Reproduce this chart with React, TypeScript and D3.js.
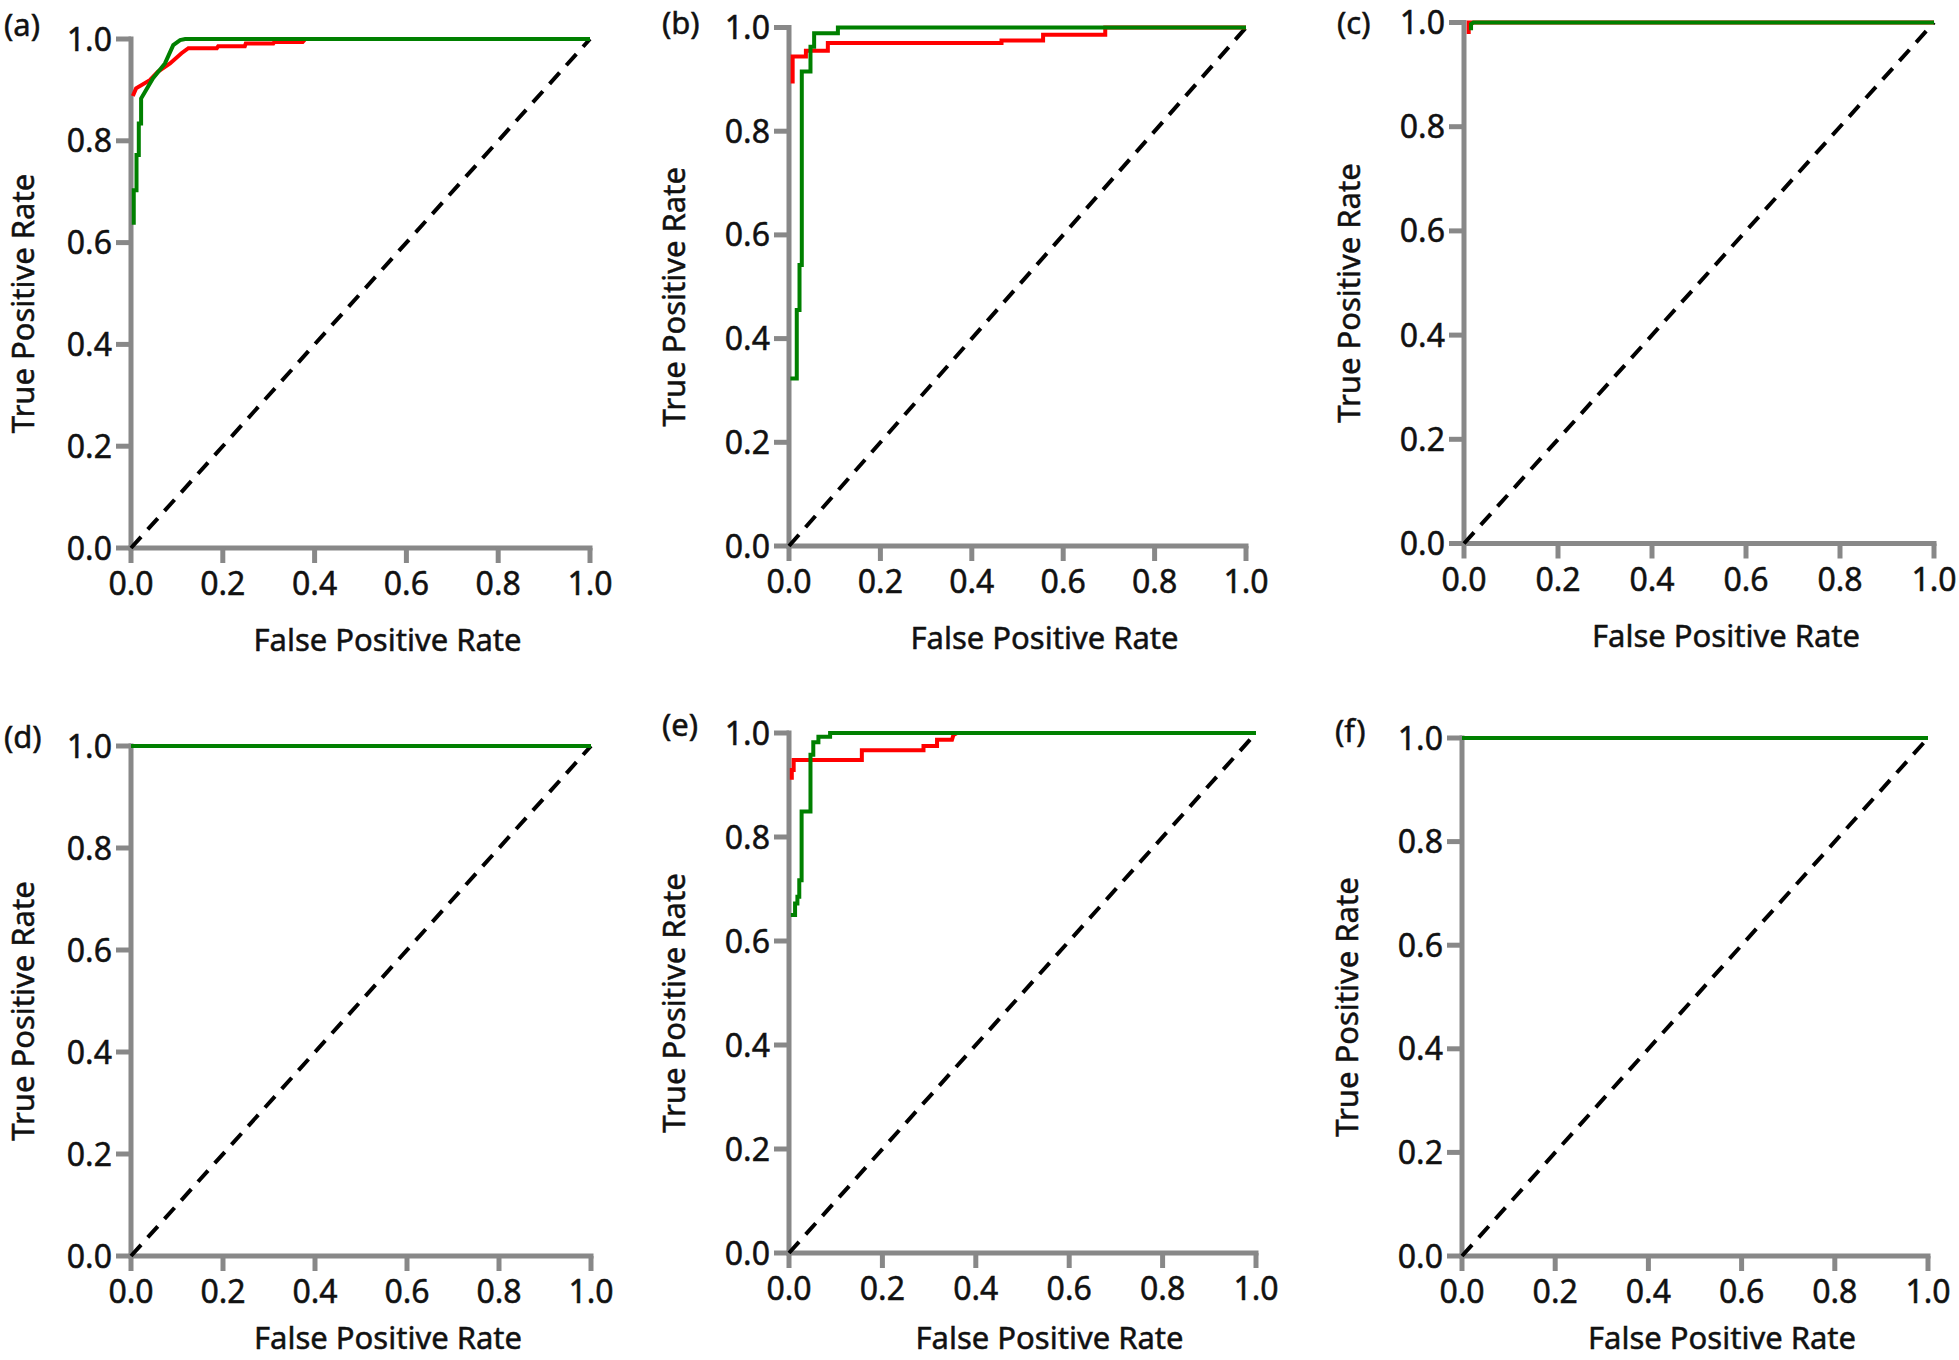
import React from "react";
import * as d3 from "d3";

// ---------- DATA ----------
const panelLabels = ["(a)", "(b)", "(c)", "(d)", "(e)", "(f)"];
const tickValues = [0, 0.2, 0.4, 0.6, 0.8, 1.0];
const xTitle = "False Positive Rate";
const yTitle = "True Positive Rate";
const diagonal: [number, number][] = [[0, 0], [1, 1]];

const redA: [number, number][] = [[0.004,0.888],[0.011,0.903],[0.041,0.919],[0.059,0.936],[0.085,0.952],[0.11,0.972],[0.125,0.982],[0.187,0.982],[0.19,0.986],[0.248,0.986],[0.25,0.991],[0.31,0.991],[0.312,0.994],[0.374,0.994],[0.38,1],[1,1]];
const greenA: [number, number][] = [[0.006,0.635],[0.006,0.703],[0.012,0.703],[0.012,0.772],[0.017,0.772],[0.017,0.834],[0.022,0.834],[0.022,0.883],[0.048,0.923],[0.074,0.952],[0.092,0.988],[0.107,0.998],[0.118,1],[1,1]];

const redB: [number, number][] = [[0.008,0.892],[0.008,0.944],[0.037,0.944],[0.037,0.955],[0.085,0.955],[0.085,0.97],[0.465,0.97],[0.465,0.975],[0.556,0.975],[0.556,0.986],[0.692,0.986],[0.692,1],[1,1]];
const greenB: [number, number][] = [[0.003,0.323],[0.017,0.323],[0.017,0.455],[0.023,0.455],[0.023,0.542],[0.028,0.542],[0.028,0.915],[0.047,0.915],[0.047,0.963],[0.055,0.963],[0.055,0.989],[0.107,0.989],[0.107,1],[1,1]];

const redC: [number, number][] = [[0.01,0.978],[0.01,1],[1,1]];
const greenC: [number, number][] = [[0.015,0.985],[0.015,0.997],[0.02,1],[1,1]];

const redD: [number, number][] = [[0,1],[1,1]];
const greenD: [number, number][] = [[0,1],[1,1]];

const redE: [number, number][] = [[0.006,0.91],[0.006,0.929],[0.01,0.929],[0.01,0.948],[0.156,0.948],[0.156,0.967],[0.288,0.967],[0.288,0.975],[0.317,0.975],[0.317,0.987],[0.349,0.987],[0.352,0.996],[0.36,1],[1,1]];
const greenE: [number, number][] = [[0.004,0.65],[0.013,0.65],[0.013,0.672],[0.018,0.672],[0.018,0.685],[0.022,0.685],[0.022,0.717],[0.027,0.717],[0.027,0.849],[0.046,0.849],[0.046,0.958],[0.052,0.958],[0.052,0.982],[0.063,0.982],[0.063,0.993],[0.088,0.993],[0.088,1],[1,1]];

const redF: [number, number][] = [[0,1],[1,1]];
const greenF: [number, number][] = [[0,1],[1,1]];

const redSeries = [redA, redB, redC, redD, redE, redF];
const greenSeries = [greenA, greenB, greenC, greenD, greenE, greenF];

// ---------- LAYOUT ----------
// [x0, x1, yTop, yBottom, labelBaseline]
const layout: [number, number, number, number, number][] = [
  [131, 590, 39, 548, 36],
  [789, 1246, 27.5, 546, 34],
  [1464, 1934, 22.5, 543.5, 34],
  [131, 591, 746, 1256, 748],
  [789, 1256, 733, 1253, 736],
  [1462, 1928, 738, 1256, 742],
];

const FONT = "'Noto Sans', 'Open Sans', sans-serif";
const FS = 31;
const TFS = 32;
const AXIS = "#888888";
const TEXT = "#111111";
const fmt = d3.format(".1f");
const textStyle = { stroke: TEXT, strokeWidth: 0.5 };

function Panel({ i }: { i: number }) {
  const [x0, x1, yT, yB, lb] = layout[i];
  const x = d3.scaleLinear().domain([0, 1]).range([x0, x1]);
  const y = d3.scaleLinear().domain([0, 1]).range([yB, yT]);
  const line = d3.line<[number, number]>().x((d) => x(d[0])).y((d) => y(d[1]));
  const tick = 15;
  const yTitleX = Math.max(34, x0 - 104);
  const xTitleY = Math.min(yB + 103, 1349);
  return (
    <g>
      {/* axes */}
      <line x1={x0} x2={x0} y1={y(1)} y2={y(0)} stroke={AXIS} strokeWidth={5} strokeLinecap="square" />
      <line x1={x(0)} x2={x(1)} y1={yB} y2={yB} stroke={AXIS} strokeWidth={5} strokeLinecap="square" />
      {tickValues.map((t) => (
        <g key={"x" + t}>
          <line x1={x(t)} x2={x(t)} y1={yB} y2={yB + tick} stroke={AXIS} strokeWidth={5} />
          <text x={x(t)} y={yB + 47} textAnchor="middle" fontFamily={FONT} fontSize={TFS} fill={TEXT} style={textStyle}>
            {fmt(t)}
          </text>
        </g>
      ))}
      {tickValues.map((t) => (
        <g key={"y" + t}>
          <line x1={x0 - tick} x2={x0} y1={y(t)} y2={y(t)} stroke={AXIS} strokeWidth={5} />
          <text x={x0 - 19} y={y(t) + 11.5} textAnchor="end" fontFamily={FONT} fontSize={TFS} fill={TEXT} style={textStyle}>
            {fmt(t)}
          </text>
        </g>
      ))}
      {/* diagonal */}
      <path d={line(diagonal) || ""} fill="none" stroke="#000" strokeWidth={4} strokeDasharray="15,10" />
      {/* curves */}
      <path d={line(redSeries[i]) || ""} fill="none" stroke="#ff0000" strokeWidth={4} strokeLinejoin="miter" />
      <path d={line(greenSeries[i]) || ""} fill="none" stroke="#008000" strokeWidth={4} strokeLinejoin="miter" />
      {/* titles */}
      <text x={(x0 + x1) / 2 + 27} y={xTitleY} textAnchor="middle" fontFamily={FONT} fontSize={FS} fill={TEXT} style={textStyle}>
        {xTitle}
      </text>
      <text
        transform={`translate(${yTitleX},${(yT + yB) / 2 + 10}) rotate(-90)`}
        textAnchor="middle"
        fontFamily={FONT}
        fontSize={FS}
        fill={TEXT}
        style={textStyle}
      >
        {yTitle}
      </text>
      <text x={x0 - 127} y={lb} fontFamily={FONT} fontSize={FS} fill={TEXT} style={textStyle}>
        {panelLabels[i]}
      </text>
    </g>
  );
}

export default function App() {
  return (
    <svg
      width={1959}
      height={1360}
      style={{ position: "absolute", left: 0, top: 0, background: "#fff" }}
    >
      <rect width={1959} height={1360} fill="#fff" />
      {panelLabels.map((_, i) => (
        <Panel key={i} i={i} />
      ))}
    </svg>
  );
}
